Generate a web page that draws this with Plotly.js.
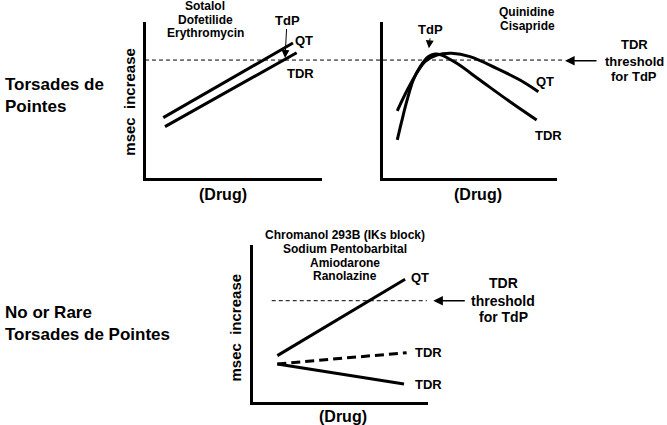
<!DOCTYPE html>
<html>
<head>
<meta charset="utf-8">
<script src="https://cdn.plot.ly/plotly-3.0.1.min.js"></script>
<style>html,body{margin:0;padding:0;background:#fff;}#chart{width:667px;height:425px;}</style>
</head>
<body>
<div id="chart"></div>
<script>
// ---- Data (schematic, axis units 0-100) ----
// Panel A: Sotalol / Dofetilide / Erythromycin
const aQT_x = [9.8, 83.5];
const aQT_y = [38.7, 86.5];
const aTDR_x = [10.8, 85.6];
const aTDR_y = [32.9, 80.3];
// Panel B: Quinidine / Cisapride
const bQT_x = [8.2, 15.5, 24.1, 30.9, 39.5, 50.0, 65.3, 78.7, 89.3];
const bQT_y = [43.1, 59.6, 74.6, 78.8, 79.9, 77.8, 70.3, 62.8, 55.3];
const bTDR_x = [8.2, 10.7, 13.6, 17.4, 21.3, 26.0, 29.9, 33.7, 42.4, 55.7, 73.0, 88.3];
const bTDR_y = [24.4, 36.1, 48.9, 62.8, 71.3, 77.8, 79.5, 78.8, 73.5, 62.8, 48.9, 37.2];
// Panel C: Chromanol 293B / Sodium Pentobarbital / Amiodarone / Ranolazine
const cQT_x = [13.9, 86.9];
const cQT_y = [29.3, 78.1];
const cTDRdash_x = [13.9, 87.8];
const cTDRdash_y = [24.0, 31.2];
const cTDRsolid_x = [13.9, 86.3];
const cTDRsolid_y = [24.0, 11.2];
// TDR threshold for TdP
const thresholdTop = 75.6;
const thresholdBottom = 64.4;
const thresholdBottomX = [10.7, 99.3];
// TdP arrow targets
const tdpA = [79.0, 76.9];
const tdpB = [26.4, 83.1];

// Drug lists / labels
const drugsA = ["Sotalol", "Dofetilide", "Erythromycin"];
const drugsB = ["Quinidine", "Cisapride"];
const drugsC = ["Chromanol 293B (IKs block)", "Sodium Pentobarbital", "Amiodarone", "Ranolazine"];
const thresholdText = ["TDR", "threshold", "for TdP"];
const yTitle = "msec\u00a0 increase";
const xTitle = "(Drug)";

// ---- helpers ----
const W = 667, H = 425;
const PX = p => p / W;
const PY = p => 1 - p / H;
const FONT = "Liberation Sans, Arial, Helvetica, sans-serif";
const f = (size) => ({family: FONT, size: size, color: "#000", weight: "bold"});

function line(x, y, xa, ya, dash, shape) {
  return {x: x, y: y, xaxis: xa, yaxis: ya, mode: "lines", hoverinfo: "skip",
    line: {color: "#000", width: 3, dash: dash || "solid", shape: shape || "linear", smoothing: 1}};
}
const traces = [
  line(aQT_x, aQT_y, "x", "y"),
  line(aTDR_x, aTDR_y, "x", "y"),
  line(bQT_x, bQT_y, "x2", "y2", null, "spline"),
  line(bTDR_x, bTDR_y, "x2", "y2", null, "spline"),
  line(cQT_x, cQT_y, "x3", "y3"),
  line(cTDRdash_x, cTDRdash_y, "x3", "y3", "9px,5px"),
  line(cTDRsolid_x, cTDRsolid_y, "x3", "y3")
];

function axis(domain, anchor) {
  return {domain: domain, anchor: anchor, range: [0, 100], showline: true, linewidth: 3,
    linecolor: "#000", showgrid: false, zeroline: false, showticklabels: false, ticks: "", fixedrange: true};
}

function txt(s, px, py, size, opts) {
  return Object.assign({text: s, xref: "paper", yref: "paper", x: PX(px), y: PY(py),
    xanchor: "center", yanchor: "middle", showarrow: false, font: f(size)}, opts || {});
}

const ann = [];
// Left row labels
ann.push(txt("Torsades de<br>Pointes", 3, 96, 17, {xanchor: "left", align: "left"}));
ann.push(txt("No or Rare<br>Torsades de Pointes", 3, 323.3, 17, {xanchor: "left", align: "left"}));
// Drug lists
[6, 20, 33.4].forEach((py, i) => ann.push(txt(drugsA[i], 205.5, py, 12)));
[12.0, 25.5].forEach((py, i) => ann.push(txt(drugsB[i], 527, py, 12)));
[235, 248.5, 262.5, 275.9].forEach((py, i) => ann.push(txt(drugsC[i], 345, py, 12)));
// Axis titles
ann.push(txt(yTitle, 130, 101.7, 15, {textangle: -90}));
ann.push(txt(yTitle, 235, 327.5, 15, {textangle: -90}));
ann.push(txt(xTitle, 223, 194, 16));
ann.push(txt(xTitle, 478, 194, 16));
ann.push(txt(xTitle, 343.5, 416.7, 16));
// Curve labels
ann.push(txt("QT", 304, 40.7, 13));
ann.push(txt("TDR", 300.5, 73.3, 13));
ann.push(txt("QT", 545, 81.3, 13));
ann.push(txt("TDR", 548.5, 135.5, 13));
ann.push(txt("QT", 420, 277.5, 13));
ann.push(txt("TDR", 428.3, 352.3, 13));
ann.push(txt("TDR", 428.3, 384.3, 13));
// Threshold texts
[44.5, 61, 77].forEach((py, i) => ann.push(txt(thresholdText[i], 634, py, 13)));
[283.3, 300.7, 317.3].forEach((py, i) => ann.push(txt(thresholdText[i], 503.3, py, 14)));
// Threshold arrows (pointing left)
ann.push({text: "", xref: "paper", yref: "paper", x: PX(565), y: PY(60.7), ax: 33, ay: 0,
  showarrow: true, arrowhead: 2, arrowsize: 1.2, arrowwidth: 1.6, arrowcolor: "#000", standoff: 0, startstandoff: 0});
ann.push({text: "", xref: "paper", yref: "paper", x: PX(433.3), y: PY(300.7), ax: 33, ay: 0,
  showarrow: true, arrowhead: 2, arrowsize: 1.2, arrowwidth: 1.6, arrowcolor: "#000", standoff: 0, startstandoff: 0});
// TdP arrows
ann.push({text: "TdP", xref: "x", yref: "y", x: tdpA[0], y: tdpA[1], ax: 2, ay: -38,
  showarrow: true, arrowhead: 2, arrowsize: 1.6, arrowwidth: 1, arrowcolor: "#000", standoff: 0, font: f(13)});
ann.push({text: "TdP", xref: "x2", yref: "y2", x: tdpB[0], y: tdpB[1], ax: 2, ay: -19,
  showarrow: true, arrowhead: 2, arrowsize: 1.6, arrowwidth: 1, arrowcolor: "#000", standoff: 0, font: f(13)});

const shapes = [
  {type: "line", xref: "paper", yref: "y", x0: PX(145), x1: PX(563), y0: thresholdTop, y1: thresholdTop,
    line: {color: "#000", width: 1, dash: "4px,3px"}},
  {type: "line", xref: "x3", yref: "y3", x0: thresholdBottomX[0], x1: thresholdBottomX[1], y0: thresholdBottom, y1: thresholdBottom,
    line: {color: "#000", width: 1, dash: "4px,3px"}}
];

const layout = {
  width: W, height: H, margin: {l: 0, r: 0, t: 0, b: 0},
  paper_bgcolor: "#fff", plot_bgcolor: "#fff", showlegend: false,
  font: {family: FONT, color: "#000"},
  xaxis: axis([PX(146), PX(322)], "y"),
  yaxis: axis([PY(178), PY(22)], "x"),
  xaxis2: axis([PX(383), PX(557)], "y2"),
  yaxis2: axis([PY(178), PY(22)], "x2"),
  xaxis3: axis([PX(253), PX(428)], "y3"),
  yaxis3: axis([PY(401.5), PY(245)], "x3"),
  annotations: ann,
  shapes: shapes
};

Plotly.newPlot("chart", traces, layout, {displayModeBar: false, staticPlot: true});
</script>
</body>
</html>
